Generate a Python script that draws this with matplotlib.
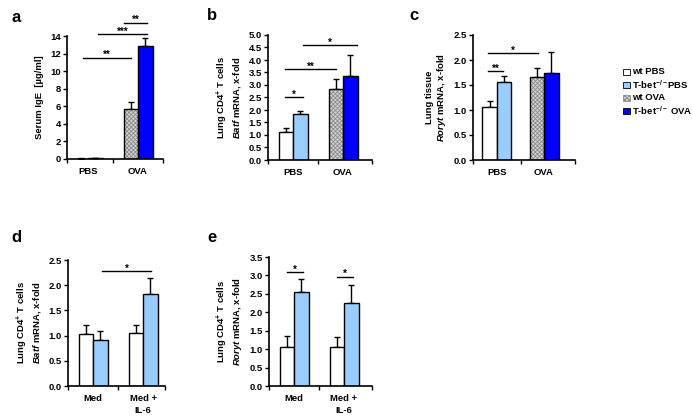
import numpy as np
import matplotlib
matplotlib.use('Agg')
import matplotlib.pyplot as plt
from matplotlib.patches import Rectangle

plt.rcParams['font.family'] = ['Liberation Sans', 'DejaVu Sans']
plt.rcParams['font.weight'] = 'bold'
plt.rcParams['mathtext.fontset'] = 'custom'
plt.rcParams['mathtext.rm'] = 'Liberation Sans:bold'
plt.rcParams['mathtext.it'] = 'Liberation Sans:italic:bold'
plt.rcParams['mathtext.bf'] = 'Liberation Sans:bold'
plt.rcParams['hatch.linewidth'] = 0.6

# data
groups_ab = ['PBS', 'OVA']
groups_de = ['Med', 'Med +\nIL-6']
legend_names = ['wt PBS', r'T-bet$^{-/-}$PBS', 'wt OVA', r'T-bet$^{-/-}$ OVA']

ige_mean = [0.05, 0.08, 5.7, 12.9]
ige_err = [0.02, 0.02, 0.8, 0.9]

batf_mean = [1.1, 1.82, 2.82, 3.35]
batf_err = [0.17, 0.15, 0.42, 0.85]

roryt_lung_mean = [1.06, 1.56, 1.65, 1.73]
roryt_lung_err = [0.11, 0.12, 0.19, 0.42]

batf_il6_mean = [1.03, 0.92, 1.05, 1.82]
batf_il6_err = [0.19, 0.17, 0.16, 0.32]

roryt_il6_mean = [1.05, 2.56, 1.05, 2.26]
roryt_il6_err = [0.32, 0.33, 0.27, 0.48]

W, H = 692, 419
fig = plt.figure(figsize=(W / 100, H / 100), dpi=100)

colors = ['white', '#99ccff', '#d4d4d4', '#0000ff']
hatches = [None, None, 'xxxxxxxx', None]


def make_ax(left, right, top, bottom, c0, sp, ymax, ystep, ylabel, groups):
    ax = fig.add_axes([left / W, 1 - bottom / H, (right - left) / W, (bottom - top) / H])
    xl, xr = (left - c0) / sp, (right - c0) / sp
    ax.set_xlim(xl, xr)
    ax.set_ylim(0, ymax)
    ax.spines[['top', 'right']].set_visible(False)
    for s in ['left', 'bottom']:
        ax.spines[s].set_linewidth(1.2)
    ticks = np.arange(0, ymax + 1e-9, ystep)
    ax.set_yticks(ticks)
    if ystep < 1:
        ax.set_yticklabels([f'{v:.1f}' for v in ticks])
    ax.tick_params(axis='y', labelsize=6.8, length=3, width=1, pad=1.5)
    ax.set_xticks(range(len(groups)))
    ax.set_xticklabels(groups, fontsize=6.8, fontweight='bold', linespacing=1.4)
    ax.tick_params(axis='x', which='major', length=0, pad=6)
    ax.set_xticks([xl, 0.5, xr], minor=True)
    ax.tick_params(axis='x', which='minor', length=3, width=1)
    ax.set_ylabel(ylabel, fontsize=6.8, fontweight='bold', labelpad=4, linespacing=1.05)
    return ax


def draw_bars(ax, means, errs, sp, idx):
    bw = 14.5 / sp
    for k, (m, e, i) in enumerate(zip(means, errs, idx)):
        g = k // 2
        x = g + (k % 2 - 0.5) * bw
        ax.errorbar(x, m, yerr=[[0], [e]], fmt='none', ecolor='k', elinewidth=1,
                    capsize=2.3, capthick=1, zorder=1)
        if hatches[i]:
            ax.bar(x, m, bw, color=colors[i], hatch=hatches[i], edgecolor='#8a8a8a',
                   linewidth=0, zorder=2)
            ax.bar(x, m, bw, fill=False, edgecolor='k', linewidth=1, zorder=3)
        else:
            ax.bar(x, m, bw, color=colors[i], edgecolor='k', linewidth=1, zorder=2)


def sig(ax, x0, x1, y, text):
    ax.plot([x0, x1], [y, y], color='k', lw=1, clip_on=False)
    ax.annotate(text, ((x0 + x1) / 2, y), xytext=(0, -0.3), textcoords='offset points',
                ha='center', va='baseline', fontsize=7, fontweight='bold',
                annotation_clip=False)


# a
sp = 50
ax = make_ax(67, 163, 36, 159, 88, sp, 14, 2, 'Serum IgE  [µg/ml]', groups_ab)
draw_bars(ax, ige_mean, ige_err, sp, [0, 1, 2, 3])
sig(ax, -0.1, 0.86, 11.55, '**')
sig(ax, 0.2, 1.18, 14.2, '***')
sig(ax, 0.72, 1.18, 15.5, '**')

# b
sp = 50
ax = make_ax(268, 372, 35, 160, 293, sp, 5, 0.5,
             'Lung CD4$^{+}$ T cells\n$\\mathit{Batf}$ mRNA, x-fold', groups_ab)
draw_bars(ax, batf_mean, batf_err, sp, [0, 1, 2, 3])
sig(ax, -0.16, 0.2, 2.5, '*')
sig(ax, -0.16, 0.86, 3.63, '**')
sig(ax, 0.2, 1.28, 4.58, '*')

# c
sp = 47
ax = make_ax(473, 575, 35, 160, 497, sp, 2.5, 0.5,
             'Lung tissue\n$\\mathit{Roryt}$ mRNA, x-fold', groups_ab)
draw_bars(ax, roryt_lung_mean, roryt_lung_err, sp, [0, 1, 2, 3])
sig(ax, -0.19, 0.13, 1.78, '**')
sig(ax, -0.19, 0.87, 2.14, '*')

# d
sp = 50
ax = make_ax(68, 165, 260, 386, 93, sp, 2.5, 0.5,
             'Lung CD4$^{+}$ T cells\n$\\mathit{Batf}$ mRNA, x-fold', groups_de)
draw_bars(ax, batf_il6_mean, batf_il6_err, sp, [0, 1, 0, 1])
sig(ax, 0.18, 1.16, 2.28, '*')

# e
sp = 50
ax = make_ax(269, 372, 257, 386, 294, sp, 3.5, 0.5,
             'Lung CD4$^{+}$ T cells\n$\\mathit{Roryt}$ mRNA, x-fold', groups_de)
draw_bars(ax, roryt_il6_mean, roryt_il6_err, sp, [0, 1, 0, 1])
sig(ax, -0.14, 0.18, 3.08, '*')
sig(ax, 0.86, 1.18, 2.96, '*')

# panel letters
for lab, x, y in [('a', 11, 17), ('b', 207, 15), ('c', 409, 15), ('d', 11, 237), ('e', 207, 237)]:
    fig.text(x / W, 1 - y / H, lab, fontsize=12, fontweight='bold', va='center')

# legend
for i, (name, y) in enumerate(zip(legend_names, [72, 85, 98, 111])):
    s = 6.5
    r = Rectangle((623 / W, 1 - (y + s / 2) / H), s / W, s / H, transform=fig.transFigure,
                  facecolor=colors[i], edgecolor='#8a8a8a' if hatches[i] else 'k',
                  hatch=hatches[i], linewidth=0.6)
    fig.add_artist(r)
    fig.text(632 / W, 1 - y / H, name, fontsize=6.8, fontweight='bold', va='center')

fig.savefig('out.png', dpi=100)
